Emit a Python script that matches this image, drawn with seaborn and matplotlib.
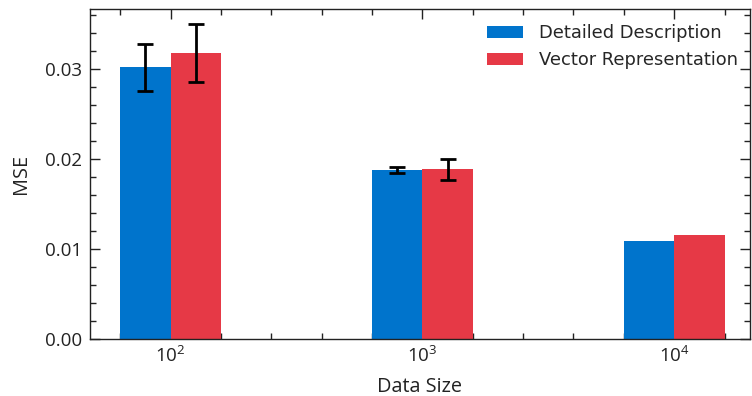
import matplotlib
matplotlib.use("Agg")
import matplotlib.pyplot as plt
import seaborn as sns
import pandas as pd
import numpy as np
from matplotlib.ticker import MultipleLocator

sizes = ["$10^2$", "$10^3$", "$10^4$"]
methods = ["Detailed Description", "Vector Representation"]
detailed = [0.0302, 0.01878, 0.01089]
vector = [0.0318, 0.01889, 0.01156]
detailed_err = [0.0026, 0.0003, 0.0]
vector_err = [0.0032, 0.00117, 0.0]
colors = ["#0074CC", "#E63946"]

df = pd.DataFrame({
    "Data Size": sizes * 2,
    "Method": [methods[0]] * 3 + [methods[1]] * 3,
    "MSE": detailed + vector,
})
errs = detailed_err + vector_err

sns.set_theme(style="ticks")
plt.rcParams["font.family"] = ["Open Sans", "DejaVu Sans"]
plt.rcParams["mathtext.fontset"] = "custom"
plt.rcParams["mathtext.rm"] = "Open Sans"
plt.rcParams["mathtext.it"] = "Open Sans"

fig = plt.figure(figsize=(7.52, 3.96), dpi=100)
ax = fig.add_axes([0.1197, 0.1439, 0.8773, 0.8333])

sns.barplot(data=df, x="Data Size", y="MSE", hue="Method", palette=colors,
            width=0.4, errorbar=None, ax=ax, saturation=1, linewidth=0)

bars = [p for p in ax.patches if p.get_width() > 0][:6]
bars_sorted = sorted(bars, key=lambda p: (0 if p.get_facecolor()[0] < 0.5 else 1, p.get_x()))
for p, e in zip(bars_sorted, errs):
    if e > 0:
        ax.errorbar(p.get_x() + p.get_width() / 2, p.get_height(), yerr=e,
                    fmt="none", ecolor="black", elinewidth=2, capsize=5.5, capthick=2)

ax.set_xlim(-0.32, 2.3)
ax.set_ylim(0, 0.0367)
ax.yaxis.set_major_locator(MultipleLocator(0.01))
ax.yaxis.set_minor_locator(MultipleLocator(0.002))
ax.xaxis.set_minor_locator(MultipleLocator(0.2))
ax.yaxis.set_major_formatter(matplotlib.ticker.FormatStrFormatter("%.2f"))

ax.tick_params(axis="both", which="both", direction="in", top=True, right=True,
               colors="#222222", labelcolor="#222222")
ax.tick_params(which="major", length=7, width=1, labelsize=13.5)
ax.tick_params(axis="y", which="major", pad=6)
ax.tick_params(axis="x", which="major", pad=5)
ax.tick_params(which="minor", length=4, width=1)
for s in ax.spines.values():
    s.set_color("#222222")
    s.set_linewidth(1)

ax.set_xlabel("Data Size", fontsize=14.3, color="#222222", labelpad=8)
ax.set_ylabel("MSE", fontsize=14.3, color="#222222", labelpad=10)

leg = ax.legend(loc="upper right", bbox_to_anchor=(1.005, 1.0), frameon=False,
                prop={"family": "DejaVu Sans", "size": 12.9},
                handlelength=2.0, handleheight=0.72, handletextpad=0.9,
                labelspacing=0.5, borderaxespad=0.45, borderpad=0.4)
leg.set_title(None)

fig.savefig("out.png", dpi=100)
